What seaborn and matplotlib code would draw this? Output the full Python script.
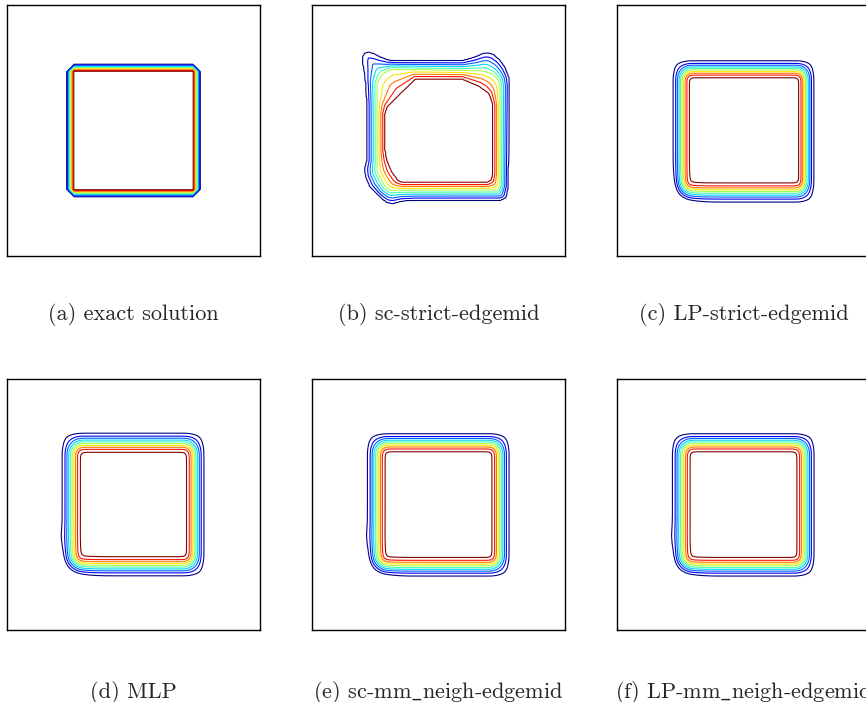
import numpy as np
import matplotlib
matplotlib.use("Agg")
import matplotlib.pyplot as plt
from matplotlib.path import Path
import seaborn as sns

sns.set_style("white", {"axes.edgecolor": "black"})
plt.rcParams["font.family"] = ["cmr10", "DejaVu Serif"]
plt.rcParams["mathtext.fontset"] = "cm"
plt.rcParams["axes.formatter.use_mathtext"] = True

captions = ["(a) exact solution", "(b) sc-strict-edgemid", "(c) LP-strict-edgemid",
            "(d) MLP", r"(e) sc-mm$\_$neigh-edgemid", r"(f) LP-mm$\_$neigh-edgemid"]

# contour levels of the solution
levels = [0.05, 0.15, 0.25, 0.35, 0.45, 0.55, 0.65, 0.75, 0.85, 0.95]

# exact solution: indicator of the square, sampled at cell centres of a 32x32 mesh
exact_cells = 32
exact_square = [0.25, 0.75, 0.25, 0.75]  # left, right, bottom, top

# sc-strict-edgemid: outlines of the 0.05, 0.55 and 0.95 levels
outline_low_b = [
    (0.218, 0.382), (0.218, 0.600), (0.214, 0.680), (0.207, 0.740),
    (0.200, 0.775), (0.201, 0.795), (0.210, 0.808), (0.225, 0.811),
    (0.245, 0.805), (0.270, 0.792), (0.300, 0.780), (0.330, 0.777),
    (0.594, 0.777), (0.640, 0.790), (0.675, 0.805), (0.693, 0.808),
    (0.715, 0.803), (0.740, 0.782), (0.762, 0.750), (0.776, 0.712),
    (0.779, 0.680), (0.777, 0.500), (0.774, 0.276), (0.766, 0.234),
    (0.746, 0.223), (0.409, 0.223), (0.356, 0.220), (0.319, 0.210),
    (0.297, 0.214), (0.270, 0.234), (0.230, 0.276), (0.213, 0.316),
    (0.210, 0.349),
]
outline_mid_b = [
    (0.257, 0.688), (0.270, 0.712), (0.285, 0.730), (0.316, 0.744),
    (0.673, 0.738), (0.713, 0.725), (0.737, 0.701), (0.743, 0.675),
    (0.743, 0.283), (0.733, 0.263), (0.310, 0.262), (0.290, 0.274),
    (0.258, 0.336),
]
outline_high_b = [
    (0.409, 0.706), (0.594, 0.706), (0.660, 0.677), (0.700, 0.648),
    (0.710, 0.622), (0.716, 0.600), (0.716, 0.329), (0.710, 0.303),
    (0.693, 0.292), (0.356, 0.292), (0.340, 0.299), (0.313, 0.336),
    (0.294, 0.382), (0.287, 0.422), (0.287, 0.568), (0.296, 0.595),
    (0.356, 0.655),
]
outline_values_b = [0.05, 0.55, 0.95]

# smoothed solutions: position of the 0.5 level on each side (left, right, bottom, top)
edges_c = [0.254, 0.748, 0.253, 0.744]
edges_d = [0.254, 0.744, 0.254, 0.746]
edges_e = [0.254, 0.745, 0.252, 0.746]
edges_f = [0.254, 0.745, 0.252, 0.746]

# ramp width of the front on each side (left, right, bottom, top)
ramp_c = [0.059, 0.055, 0.070, 0.062]
ramp_d = [0.066, 0.063, 0.070, 0.070]
ramp_e = [0.064, 0.062, 0.068, 0.066]
ramp_f = [0.064, 0.062, 0.068, 0.066]

# local under/overshoots of the front (x, y, radius, amount)
bumps_c = [(0.20, 0.20, 0.06, -0.20)]
bumps_d = [(0.20, 0.20, 0.06, -0.20), (0.21, 0.37, 0.035, 0.02)]
bumps_e = [(0.20, 0.20, 0.06, -0.18), (0.21, 0.37, 0.035, 0.02)]
bumps_f = [(0.20, 0.20, 0.06, -0.18), (0.21, 0.37, 0.035, 0.02)]

ramp_panels = [
    (edges_c, ramp_c, bumps_c),
    (edges_d, ramp_d, bumps_d),
    (edges_e, ramp_e, bumps_e),
    (edges_f, ramp_f, bumps_f),
]

SOFT = 10.0


def soft_ramp(s):
    return (np.logaddexp(0, SOFT * (s + 0.5)) - np.logaddexp(0, SOFT * (s - 0.5))) / SOFT


def ramp_solution(X, Y, edges, ramp, bumps):
    x0, x1, y0, y1 = edges
    wl, wr, wb, wt = ramp
    u = (soft_ramp((X - x0) / wl) * soft_ramp((x1 - X) / wr)
         * soft_ramp((Y - y0) / wb) * soft_ramp((y1 - Y) / wt))
    for (x, y, r, a) in bumps:
        u = u + a * np.exp(-((X - x) ** 2 + (Y - y) ** 2) / (2 * r * r))
    return u


def signed_distance(X, Y, verts):
    P = np.column_stack([X.ravel(), Y.ravel()])
    V = np.asarray(verts, dtype=float)
    d = np.full(len(P), np.inf)
    for a, b in zip(V, np.roll(V, -1, axis=0)):
        ab = b - a
        t = np.clip(((P - a) @ ab) / (ab @ ab), 0, 1)
        proj = a + t[:, None] * ab
        d = np.minimum(d, np.hypot(*(P - proj).T))
    inside = Path(V).contains_points(P)
    d[inside] *= -1
    return d.reshape(X.shape)


def outline_solution(X, Y, outlines, values):
    """Blend between nested level outlines by relative distance."""
    dist = [signed_distance(X, Y, o) for o in outlines]
    u = values[0] - dist[0]
    for k in range(len(outlines) - 1):
        a = np.maximum(-dist[k], 0)
        b = np.maximum(dist[k + 1], 0)
        band = (dist[k] <= 0) & (dist[k + 1] > 0)
        val = values[k] + (values[k + 1] - values[k]) * a / (a + b + 1e-12)
        u = np.where(band, val, u)
    u = np.where(dist[-1] <= 0, values[-1] - dist[-1], u)
    return u


fig = plt.figure(figsize=(8.66, 7.02), dpi=100)
W, H = 866.0, 702.0
col_left = [7, 312, 617]
row_top = [5, 379]
ax_w, ax_h = 253, 251
cap_y = [314, 692]

axes = []
for r in range(2):
    for c in range(3):
        ax = fig.add_axes([col_left[c] / W, 1 - (row_top[r] + ax_h) / H, ax_w / W, ax_h / H])
        axes.append(ax)

line_kw = dict(levels=levels, cmap="jet", linewidths=0.8)

# exact solution
xc = (np.arange(exact_cells) + 0.5) / exact_cells
XC, YC = np.meshgrid(xc, xc)
ex = ((XC >= exact_square[0]) & (XC <= exact_square[1])
      & (YC >= exact_square[2]) & (YC <= exact_square[3])).astype(float)
axes[0].contour(XC, YC, ex, **line_kw)

xf = np.linspace(0, 1, 241)
XF, YF = np.meshgrid(xf, xf)

Ub = outline_solution(XF, YF, [outline_low_b, outline_mid_b, outline_high_b], outline_values_b)
axes[1].contour(XF, YF, Ub, **line_kw)

for ax, (edges, ramp, bumps) in zip(axes[2:], ramp_panels):
    ax.contour(XF, YF, ramp_solution(XF, YF, edges, ramp, bumps), **line_kw)

for i, ax in enumerate(axes):
    ax.set_xlim(0, 1)
    ax.set_ylim(0, 1)
    ax.set_xticks([])
    ax.set_yticks([])
    for sp in ax.spines.values():
        sp.set_visible(True)
        sp.set_color("black")
        sp.set_linewidth(1.0)
    r, c = divmod(i, 3)
    fig.text((col_left[c] + ax_w / 2) / W, 1 - cap_y[r] / H, captions[i],
             ha="center", va="center", fontsize=16)

fig.savefig("out.png", dpi=100, facecolor="white")
